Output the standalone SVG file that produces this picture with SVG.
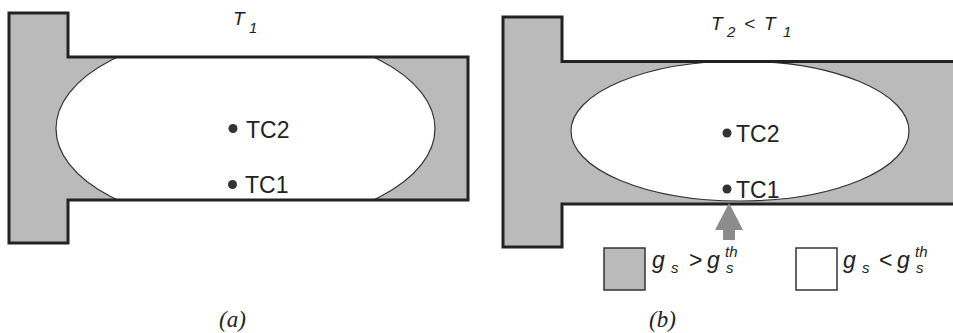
<svg xmlns="http://www.w3.org/2000/svg" width="953" height="333" viewBox="0 0 953 333">
<style>
.body{fill:#bababa;stroke:none}
.outline{fill:none;stroke:#222;stroke-width:3;stroke-linejoin:miter}
.zone{fill:#fff;stroke:#333;stroke-width:1.2}
.dot{fill:#333}
.tc{font-family:"Liberation Sans",Arial,sans-serif;font-size:23px;fill:#222}
.tl{font-family:"Liberation Sans",Arial,sans-serif;font-style:italic;font-size:19px;fill:#222}
.lg{font-family:"Liberation Sans",Arial,sans-serif;font-style:italic;font-size:23px;fill:#222}
.sm{font-size:15px}
.cap{font-family:"Liberation Serif","Times New Roman",serif;font-style:italic;font-size:23px;fill:#222}
</style>
<defs>
<clipPath id="barA"><path d="M9,13 H68 V57 H468 V200 H68 V243 H9 Z"/></clipPath>
<clipPath id="barB"><path d="M503,17 H562 V61.5 H960 V204 H562 V247 H503 Z"/></clipPath>
</defs>
<rect width="953" height="333" fill="#fff"/>

<g id="panel-a">
<path class="body" d="M9,13 H68 V57 H468 V200 H68 V243 H9 Z"/>
<ellipse class="zone" cx="245.5" cy="128.5" rx="189.5" ry="97" clip-path="url(#barA)"/>
<path class="outline" d="M9,13 H68 V57 H468 V200 H68 V243 H9 Z"/>
<text class="tl"><tspan x="233" y="25">T</tspan><tspan class="sm" x="249" y="33">1</tspan></text>
</g>
<g id="tc2-a"><circle class="dot" cx="233" cy="128.5" r="4.5"/><text class="tc" x="246" y="137.5">TC2</text></g>
<g id="tc1-a"><circle class="dot" cx="232.5" cy="184.5" r="4.5"/><text class="tc" x="245" y="193">TC1</text></g>

<g id="panel-b">
<path class="body" d="M503,17 H562 V61.5 H960 V204 H562 V247 H503 Z"/>
<ellipse class="zone" cx="740" cy="131" rx="169" ry="70" clip-path="url(#barB)"/>
<path class="outline" d="M503,17 H562 V61.5 H960 V204 H562 V247 H503 Z"/>
<text class="tl"><tspan x="711" y="30">T</tspan><tspan class="sm" x="727" y="37">2</tspan><tspan x="744" y="30">&lt;</tspan><tspan x="764" y="30">T</tspan><tspan class="sm" x="783" y="37">1</tspan></text>
</g>
<g id="tc2-b"><circle class="dot" cx="727" cy="133" r="4.5"/><text class="tc" x="736" y="142">TC2</text></g>
<g id="tc1-b"><circle class="dot" cx="727" cy="189" r="4.5"/><text class="tc" x="736" y="198">TC1</text></g>

<g id="connectors">
<polygon fill="#8c8c8c" points="729,203 743,230 735,230 735,240 723,240 723,230 715,230"/>
</g>

<g id="legend-gray">
<rect x="604" y="248" width="41" height="42" fill="#bababa" stroke="#333" stroke-width="1.5"/>
<text class="lg"><tspan x="652" y="268">g</tspan><tspan class="sm" x="671" y="273">s</tspan><tspan font-style="normal" x="689" y="268">&gt;</tspan><tspan x="707" y="268">g</tspan><tspan class="sm" x="725" y="257">th</tspan><tspan class="sm" x="726" y="273">s</tspan></text>
</g>
<g id="legend-white">
<rect x="796" y="248" width="41" height="42" fill="#fff" stroke="#333" stroke-width="1.5"/>
<text class="lg"><tspan x="843" y="268">g</tspan><tspan class="sm" x="862" y="273">s</tspan><tspan font-style="normal" x="879" y="268">&lt;</tspan><tspan x="897" y="268">g</tspan><tspan class="sm" x="915" y="257">th</tspan><tspan class="sm" x="916" y="273">s</tspan></text>
</g>

<text class="cap" x="219" y="327">(a)</text>
<text class="cap" x="649" y="327">(b)</text>
</svg>
